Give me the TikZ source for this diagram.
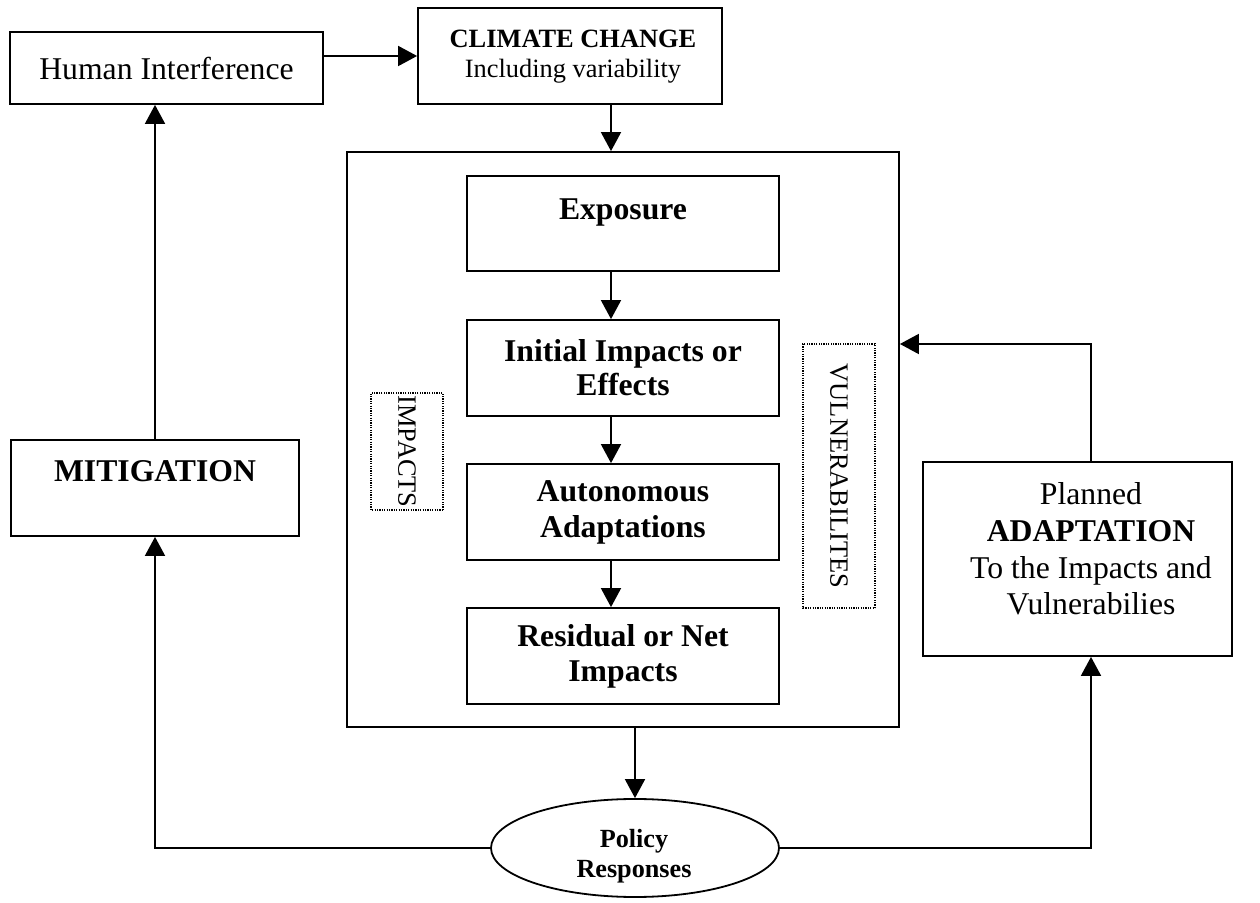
\documentclass[tikz,border=0pt]{standalone}
\usepackage{fontspec}
\setmainfont{Liberation Serif}
\usetikzlibrary{arrows.meta,shapes.geometric,calc}
\tikzset{
  box/.style={draw, line width=0.9pt, rectangle, inner sep=0pt, align=center},
  dotbox/.style={draw, line width=0.6pt, dash pattern=on 0.6pt off 0.6pt, rectangle, inner sep=0pt},
  lbl/.style={inner sep=0pt, align=center},
  arr/.style={draw, line width=0.9pt, -{Triangle[length=9.5pt,width=10pt]}},
  ln/.style={draw, line width=0.9pt},
  big/.style={font=\fontsize{15.85}{17.5}\selectfont},
  mid/.style={font=\fontsize{13.2}{16}\selectfont},
}
\begin{document}
\begin{tikzpicture}[x=0.5pt,y=-0.5pt]
\useasboundingbox (0,0) rectangle (1260,903);
% boxes
\node[box, big, minimum width=156.5pt, minimum height=36pt] (hi) at (166.5,68) {Human Interference};
\node[box, minimum width=152pt, minimum height=48pt] (cc) at (570,56) {};
\node[lbl, mid] (cctxt) at (573,57) {\textbf{CLIMATE CHANGE}\\[-1pt]Including variability};
\node[box, minimum width=276pt, minimum height=287.5pt] (outer) at (623,439.5) {};
\node[box, minimum width=156pt, minimum height=47.5pt] (expo) at (623,223.5) {};
\node[lbl, big] (expotxt) at (623,213) {\textbf{Exposure}};
\node[box, big, font=\bfseries\fontsize{15.85}{17}\selectfont, minimum width=156pt, minimum height=48pt] (init) at (623,368) {Initial Impacts or\\Effects};
\node[box, big, font=\bfseries\fontsize{15.85}{18}\selectfont, minimum width=156pt, minimum height=48pt] (auto) at (623,512) {Autonomous\\Adaptations};
\node[box, big, font=\bfseries\fontsize{15.85}{17.5}\selectfont, minimum width=156pt, minimum height=48pt] (resid) at (623,656) {Residual or Net\\Impacts};
\node[dotbox, mid, rotate=-90, minimum width=58.5pt, minimum height=36pt] (imp) at (407,451.5) {IMPACTS};
\node[dotbox, mid, rotate=-90, minimum width=132pt, minimum height=36pt] (vul) at (839,476) {VULNERABILITES};
\node[box, minimum width=144pt, minimum height=48pt] (mit) at (155,488) {};
\node[lbl, big] (mittxt) at (155,471) {\textbf{MITIGATION}};
\node[box, minimum width=154.5pt, minimum height=97pt] (adapt) at (1077.5,559) {};
\node[lbl, font=\fontsize{15.85}{18.3}\selectfont] (adapttxt) at (1091,549) {Planned\\\textbf{ADAPTATION}\\To the Impacts and\\Vulnerabilies};
\node[draw, line width=0.9pt, ellipse, minimum width=144pt, minimum height=49pt, inner sep=0pt] (ell) at (635,848) {};
\node[lbl, font=\bfseries\fontsize{13.1}{15}\selectfont] (elltxt) at (634,856) {Policy\\Responses};
% connectors
\coordinate (yHC) at (0,56);
\coordinate (xCC) at (611,0);
\coordinate (xAD) at (1091,0);
\coordinate (yAD) at (0,344);
\draw[arr] (hi.east |- yHC) -- (cc.west |- yHC);
\draw[arr] (cc.south -| xCC) -- (outer.north -| xCC);
\draw[arr] (expo.south -| xCC) -- (init.north -| xCC);
\draw[arr] (init.south -| xCC) -- (auto.north -| xCC);
\draw[arr] (auto.south -| xCC) -- (resid.north -| xCC);
\draw[arr] (outer.south -| ell.north) -- (ell.north);
\draw[arr] (mit.north) -- (mit.north |- hi.south);
\draw[arr] (ell.west) -| (mit.south);
\draw[arr] (ell.east) -| (adapt.south -| xAD);
\draw[arr] (adapt.north -| xAD) |- (outer.east |- yAD);
\end{tikzpicture}
\end{document}
